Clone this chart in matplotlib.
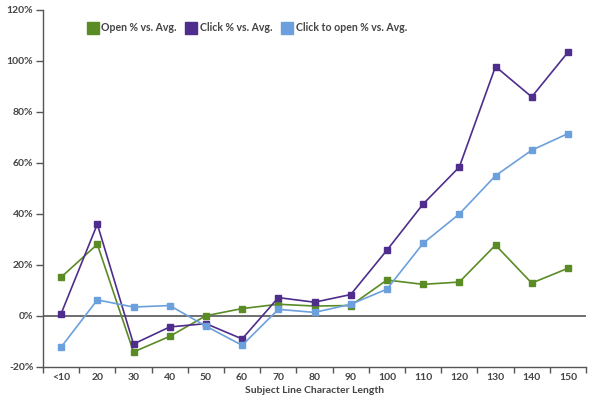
import matplotlib
matplotlib.use("Agg")
import matplotlib.pyplot as plt
import numpy as np

plt.rcParams['font.family'] = ['Lato', 'DejaVu Sans']

# subject line length buckets
categories = ["<10", "20", "30", "40", "50", "60", "70", "80", "90",
              "100", "110", "120", "130", "140", "150"]

open_vs_avg = [15.2, 28.1, -14.1, -8.0, 0.1, 2.9, 4.6, 3.9, 4.1,
               14.1, 12.4, 13.3, 27.8, 12.9, 18.7]
click_vs_avg = [0.9, 36.0, -11.0, -4.3, -3.0, -9.0, 7.2, 5.4, 8.4,
                25.8, 43.9, 58.4, 97.8, 85.9, 103.4]
cto_vs_avg = [-12.2, 6.3, 3.5, 4.1, -4.0, -11.5, 2.6, 1.4, 4.6,
              10.5, 28.5, 40.0, 55.0, 65.0, 71.5]

y_ticks = [-20, 0, 20, 40, 60, 80, 100, 120]

GREEN = "#5a8b25"
PURPLE = "#4e2d8c"
LIGHTBLUE = "#6ca0dc"
TEXT = "#444444"
AXIS = "#555555"

fig = plt.figure(figsize=(6.0, 3.97), dpi=100)
ax = fig.add_axes([0.0717, 0.0756, 0.905, 0.8994])

x = np.arange(len(categories))
series = [
    (open_vs_avg, GREEN, "Open % vs. Avg."),
    (click_vs_avg, PURPLE, "Click % vs. Avg."),
    (cto_vs_avg, LIGHTBLUE, "Click to open % vs. Avg."),
]
for vals, col, lab in series:
    ax.plot(x, vals, color=col, linewidth=1.2, marker="s", markersize=4.8,
            markeredgecolor=col, label=lab, zorder=3)

ax.axhline(0, color=AXIS, linewidth=1.2, zorder=2)

ax.set_xlim(-0.5, len(categories) - 0.5)
ax.set_ylim(-20, 120)

ax.set_xticks(x)
ax.set_xticklabels(categories)
ax.set_xticks(np.arange(-0.5, len(categories)), minor=True)
ax.tick_params(axis="x", which="major", length=0, pad=4, labelsize=7.5, labelcolor=TEXT)
ax.tick_params(axis="x", which="minor", length=4, width=1, color=AXIS, direction="out")

ax.set_yticks(y_ticks)
ax.set_yticklabels([f"{v}%" for v in y_ticks])
ax.tick_params(axis="y", length=5, width=1, color=AXIS, direction="out",
               labelsize=7.5, labelcolor=TEXT, pad=2)
for lbl in ax.get_xticklabels() + ax.get_yticklabels():
    lbl.set_fontweight("bold")

for side in ["top", "right"]:
    ax.spines[side].set_visible(False)
for side in ["left", "bottom"]:
    ax.spines[side].set_color(AXIS)
    ax.spines[side].set_linewidth(1.0)

ax.set_xlabel("Subject Line Character Length", fontsize=7.5, fontweight="bold",
              color=TEXT, labelpad=3)

leg = ax.legend(loc="center left", bbox_to_anchor=(0.076, 0.95), ncol=3,
                frameon=False, fontsize=7.6, handlelength=0.8, handletextpad=0.4,
                columnspacing=1.0, borderaxespad=0)
for h in leg.legend_handles:
    h.set_linestyle("None")
    h.set_markersize(8)
for t in leg.get_texts():
    t.set_color(TEXT)
    t.set_fontweight("bold")

fig.savefig("out.png", dpi=100)
